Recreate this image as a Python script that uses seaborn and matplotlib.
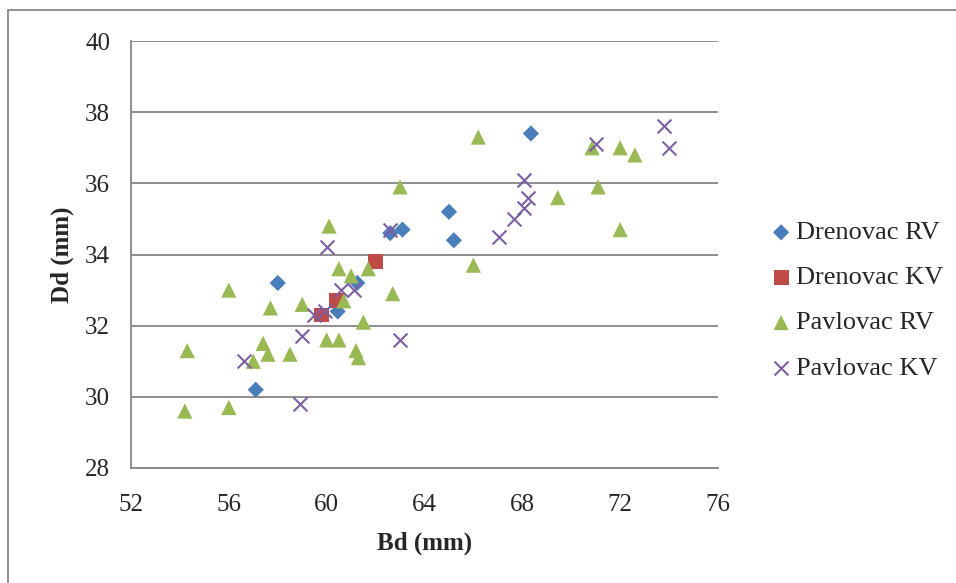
import matplotlib
matplotlib.use("Agg")
import matplotlib.pyplot as plt
import seaborn as sns
import pandas as pd
from matplotlib.patches import Rectangle

# Bd / Dd readings per group
drenovac_rv_bd = [57.1, 58.0, 60.45, 61.25, 62.6, 63.1, 65.0, 65.2, 68.35]
drenovac_rv_dd = [30.2, 33.2, 32.4, 33.2, 34.6, 34.7, 35.2, 34.4, 37.4]

drenovac_kv_bd = [59.8, 60.4, 62.0]
drenovac_kv_dd = [32.3, 32.7, 33.8]

pavlovac_rv_bd = [54.2, 54.3, 56.0, 56.0, 57.0, 57.4, 57.6, 57.7, 58.5, 59.0,
                  60.0, 60.1, 60.5, 60.5, 60.7, 61.0, 61.2, 61.3, 61.5, 61.7,
                  62.7, 63.0, 66.0, 66.2, 69.45, 70.85, 71.1, 72.0, 72.0, 72.6]
pavlovac_rv_dd = [29.6, 31.3, 29.7, 33.0, 31.0, 31.5, 31.2, 32.5, 31.2, 32.6,
                  31.6, 34.8, 33.6, 31.6, 32.7, 33.4, 31.3, 31.1, 32.1, 33.6,
                  32.9, 35.9, 33.7, 37.3, 35.6, 37.0, 35.9, 37.0, 34.7, 36.8]

pavlovac_kv_bd = [56.6, 58.9, 59.0, 59.5, 59.95, 60.0, 60.6, 61.1, 62.6, 63.0,
                  67.05, 67.65, 68.05, 68.25, 68.05, 71.0, 73.8, 74.0]
pavlovac_kv_dd = [31.0, 29.8, 31.7, 32.3, 32.4, 34.2, 33.0, 33.0, 34.7, 31.6,
                  34.5, 35.0, 35.3, 35.6, 36.1, 37.1, 37.6, 37.0]

x_ticks = [52, 56, 60, 64, 68, 72, 76]
y_ticks = [28, 30, 32, 34, 36, 38, 40]

series = [
    ("Drenovac RV", drenovac_rv_bd, drenovac_rv_dd, "D", "#4A7EBB", 68),
    ("Drenovac KV", drenovac_kv_bd, drenovac_kv_dd, "s", "#BE4B48", 115),
    ("Pavlovac RV", pavlovac_rv_bd, pavlovac_rv_dd, "^", "#98B954", 120),
    ("Pavlovac KV", pavlovac_kv_bd, pavlovac_kv_dd, "x", "#7D5FA0", 100),
]

sns.set_style("white")
plt.rcParams["font.family"] = ["Liberation Serif", "DejaVu Serif"]

fig = plt.figure(figsize=(9.56, 5.83), dpi=100)
ax = fig.add_axes([131 / 956, 1 - 468 / 583, 587 / 956, 427 / 583])

for name, bd, dd, marker, color, size in series:
    df = pd.DataFrame({"Bd": bd, "Dd": dd})
    if marker == "x":
        sns.scatterplot(data=df, x="Bd", y="Dd", marker=marker, color=color,
                        s=size, linewidth=1.5, ax=ax, label=name, zorder=3)
    else:
        sns.scatterplot(data=df, x="Bd", y="Dd", marker=marker, color=color,
                        s=size, edgecolor="none", ax=ax, label=name, zorder=3)

ax.set_xlim(52, 76)
ax.set_ylim(28, 40)
ax.set_xticks(x_ticks)
ax.set_yticks(y_ticks)
ax.tick_params(axis="y", labelsize=18, length=0, pad=15)
ax.tick_params(axis="x", labelsize=18, length=0, pad=19)
ax.yaxis.grid(True, color="#868686", linewidth=1.3)
ax.xaxis.grid(False)
ax.set_axisbelow(True)
for side in ["top", "right"]:
    ax.spines[side].set_visible(False)
for side in ["left", "bottom"]:
    ax.spines[side].set_color("#868686")
    ax.spines[side].set_linewidth(1.3)

ax.set_xlabel("Bd (mm)", fontsize=18, fontweight="bold", labelpad=11)
ax.set_ylabel("Dd (mm)", fontsize=18, fontweight="bold", labelpad=8)

ax.legend(loc="center left", bbox_to_anchor=(1.094, 0.393), frameon=False,
          fontsize=19, handlelength=0.6, handletextpad=0.25, labelspacing=0.82,
          borderaxespad=0, borderpad=0)

# chart-area frame, as in the original
fig.patches.append(Rectangle((8 / 956, -0.05), 1.1, 1 - 10 / 583 + 0.05,
                             transform=fig.transFigure, fill=False,
                             edgecolor="#868686", linewidth=1.3))

fig.savefig("out.png", dpi=100)
